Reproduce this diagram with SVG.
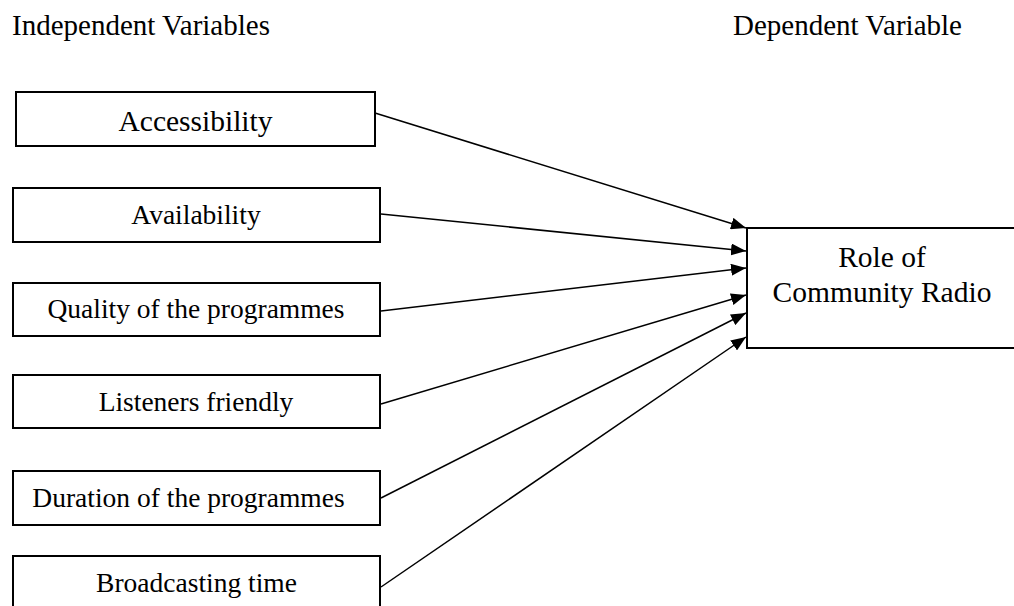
<svg xmlns="http://www.w3.org/2000/svg" width="1014" height="606" viewBox="0 0 1014 606">
<style>
  .box { fill: #fff; stroke: #000; stroke-width: 2; }
  .t { font-family: "Liberation Serif", "Times New Roman", serif; fill: #000; }
  .lbl { font-size: 27.5px; text-anchor: middle; }
  .conn { stroke: #000; stroke-width: 1.5; fill: none; marker-end: url(#arr); }
</style>
<defs>
  <marker id="arr" markerWidth="15" markerHeight="12" refX="15" refY="6" orient="auto" markerUnits="userSpaceOnUse">
    <path d="M0,0 L15,6 L0,12 Z" fill="#000"/>
  </marker>
</defs>
<rect width="1014" height="606" fill="#fff"/>
<g id="titles">
  <text class="t" x="12" y="35" font-size="29">Independent Variables</text>
  <text class="t" x="733" y="35" font-size="29">Dependent Variable</text>
</g>
<g id="connectors">
  <line class="conn" x1="375" y1="113" x2="746" y2="228"/>
  <line class="conn" x1="381" y1="214" x2="746" y2="251"/>
  <line class="conn" x1="381" y1="311" x2="746" y2="268"/>
  <line class="conn" x1="381" y1="404" x2="746" y2="295"/>
  <line class="conn" x1="381" y1="498" x2="746" y2="313"/>
  <line class="conn" x1="381" y1="587" x2="746" y2="337"/>
</g>
<g id="n1">
  <rect class="box" x="16" y="92" width="359" height="54"/>
  <text class="t lbl" x="195.5" y="131" style="font-size:29.5px">Accessibility</text>
</g>
<g id="n2">
  <rect class="box" x="13" y="188" width="367" height="54"/>
  <text class="t lbl" x="196" y="224">Availability</text>
</g>
<g id="n3">
  <rect class="box" x="13" y="283" width="367" height="53"/>
  <text class="t lbl" x="196" y="318">Quality of the programmes</text>
</g>
<g id="n4">
  <rect class="box" x="13" y="375" width="367" height="53"/>
  <text class="t lbl" x="196" y="411">Listeners friendly</text>
</g>
<g id="n5">
  <rect class="box" x="13" y="471" width="367" height="54"/>
  <text class="t lbl" x="188.5" y="507">Duration of the programmes</text>
</g>
<g id="n6">
  <rect class="box" x="13" y="556" width="367" height="60"/>
  <text class="t lbl" x="196.5" y="592">Broadcasting time</text>
</g>
<g id="target">
  <rect class="box" x="747" y="228" width="275" height="120"/>
  <text class="t" x="882" y="267" font-size="29.5" text-anchor="middle">Role of</text>
  <text class="t" x="882" y="302" font-size="29.5" text-anchor="middle">Community Radio</text>
</g>
</svg>
